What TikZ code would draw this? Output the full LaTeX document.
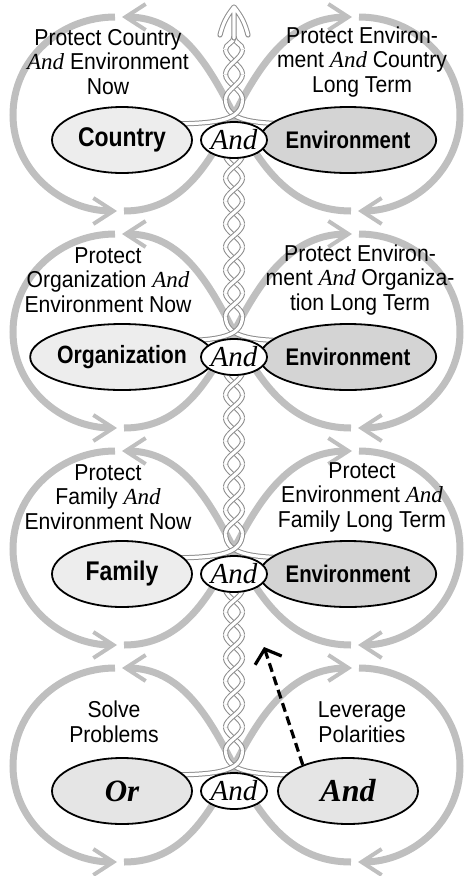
\documentclass[tikz,border=0pt]{standalone}
\usepackage{fontspec}
\setmainfont{Liberation Sans}[FakeStretch=0.92]
\newfontfamily\polefont{Liberation Sans}[FakeStretch=0.85]
\newfontfamily\serifit{Liberation Serif}
\usetikzlibrary{arrows.meta,shapes.geometric}
\newcommand{\AndWord}{{\serifit\itshape And}}
\newcommand{\fsize}[1]{\fontsize{#1}{#1}\selectfont}
\tikzset{
    loopline/.style={draw=black!25, line width=7pt,
        -{Straight Barb[length=20pt, width=26pt, line width=4pt]}}
}
\tikzset{
    strand/.style={draw=black!45, line width=1pt, double=white,
        double distance=3.2pt}
}
\tikzset{
    pole/.style={ellipse, draw, line width=1.8pt, minimum width=140pt,
        minimum height=66pt, inner sep=0pt, font=\polefont\bfseries},
    bond/.style={ellipse, draw, line width=1.8pt, fill=white,
        minimum width=64pt, minimum height=36pt, inner sep=0pt,
        font=\fsize{29}\serifit\itshape},
    caption/.style={align=center, inner sep=0pt,
        font=\fontsize{23}{24.5}\selectfont}
}

\begin{document}
\begin{tikzpicture}[x=1pt, y=1pt]
	\useasboundingbox (0,0) rectangle (468,-876);

	% the four infinity loops
	\foreach \yc in {115,332,549,766} {
		\begin{scope}[shift={(234,-\yc)}]
			\draw[loopline] (-110,-96) to[out=0,in=-117] (0,0) to[out=63,in=180] (118,98);
			\draw[loopline] (125,98) to[out=0,in=90] (226,0) to[out=270,in=0] (124,-96);
			\draw[loopline] (117,-96) to[out=180,in=-63] (0,0) to[out=117,in=0] (-112,98);
			\draw[loopline] (-119,98) to[out=180,in=90] (-221,0) to[out=270,in=180] (-117,-96);
		\end{scope}
	}

	% strands from the poles into the rope
	\foreach \yc in {115,332,549,766} {
		\begin{scope}[shift={(234,-\yc)}]
			\draw[strand] (75,-9) .. controls (20,-9) and (-8.5,-7) .. (-8.5,16);
			\draw[strand] (-75,-9) .. controls (-20,-9) and (8.5,-7) .. (8.5,16);
		\end{scope}
	}
	\foreach \yc in {332,549,766} {
		\foreach \n in {0,...,7} {
			\begin{scope}[shift={(234,-\yc+16+23*\n)}]
				\draw[strand] (8.5,0) .. controls (8.5,8.4) and (-8.5,14.6) .. (-8.5,23);
				\draw[strand] (-8.5,0) .. controls (-8.5,8.4) and (8.5,14.6) .. (8.5,23);
			\end{scope}
		}
	}
	% top of the rope
	\begin{scope}[shift={(234,-115)}]
		\foreach \ya in {16,40.8} {
			\draw[strand] (8.5,\ya) .. controls (8.5,\ya+9) and (-8.5,\ya+15.8) .. (-8.5,\ya+24.8);
			\draw[strand] (-8.5,\ya) .. controls (-8.5,\ya+9) and (8.5,\ya+15.8) .. (8.5,\ya+24.8);
		}
		\draw[strand] (8.5,65.6) .. controls (8.5,71) and (0,72) .. (0,78);
		\draw[strand] (-8.5,65.6) .. controls (-8.5,71) and (0,72) .. (0,78);
		\draw[black!45, line width=5.2pt, line join=round, line cap=round]
			(0,77) -- (0,107) (-14,80) to[bend left=12] (0,108) to[bend left=12] (14,80);
		\draw[white, line width=3.2pt, line join=round, line cap=round]
			(0,77) -- (0,107) (-14,80) to[bend left=12] (0,108) to[bend left=12] (14,80);
	\end{scope}

	% country
	\node (country) [pole, fill=black!7, font=\polefont\fsize{27}\bfseries] at (122,-140) {Country};
	\node (env1) [pole, fill=black!17, font=\polefont\fsize{24}\bfseries] at (348,-140) {Environment};
	\node (and1) [bond] at (234,-140) {And};
	\node (txtL1) [caption] at (108,-62) {Protect Country\\\AndWord{} Environment\\Now};
	\node (txtR1) [caption] at (362,-62) {Protect Environ-\\ment \AndWord{} Country\\Long Term};

	% organization
	\node (org) [pole, fill=black!7, font=\polefont\fsize{25}\bfseries] at (122,-357) {Organization};
	\node (env2) [pole, fill=black!17, font=\polefont\fsize{24}\bfseries] at (348,-357) {Environment};
	\node (and2) [bond] at (234,-357) {And};
	\node (txtL2) [caption] at (108,-280) {Protect\\Organization \AndWord\\Environment Now};
	\node (txtR2) [caption] at (360,-280) {Protect Environ-\\ment \AndWord{} Organiza-\\tion Long Term};

	% family
	\node (family) [pole, fill=black!7, font=\polefont\fsize{27}\bfseries] at (122,-574) {Family};
	\node (env3) [pole, fill=black!17, font=\polefont\fsize{24}\bfseries] at (348,-574) {Environment};
	\node (and3) [bond] at (234,-574) {And};
	\node (txtL3) [caption] at (108,-497) {Protect\\Family \AndWord\\Environment Now};
	\node (txtR3) [caption] at (362,-497) {Protect\\Environment \AndWord\\Family Long Term};

	% or / and
	\node (or) [pole, fill=black!10, font=\fsize{31}\serifit\bfseries\itshape] at (122,-791) {Or};
	\node (andR) [pole, fill=black!10, font=\fsize{32}\serifit\bfseries\itshape] at (348,-791) {And};
	\node (and4) [bond] at (234,-791) {And};
	\node (txtL4) [caption] at (114,-722) {Solve\\Problems};
	\node (txtR4) [caption] at (362,-722) {Leverage\\Polarities};

	\coordinate (tipD) at (264,-647);
	\draw[line width=3.2pt, dash pattern=on 9pt off 5pt,
		-{Straight Barb[length=12pt, width=28pt]}] (andR.150) -- (tipD);
\end{tikzpicture}
\end{document}
